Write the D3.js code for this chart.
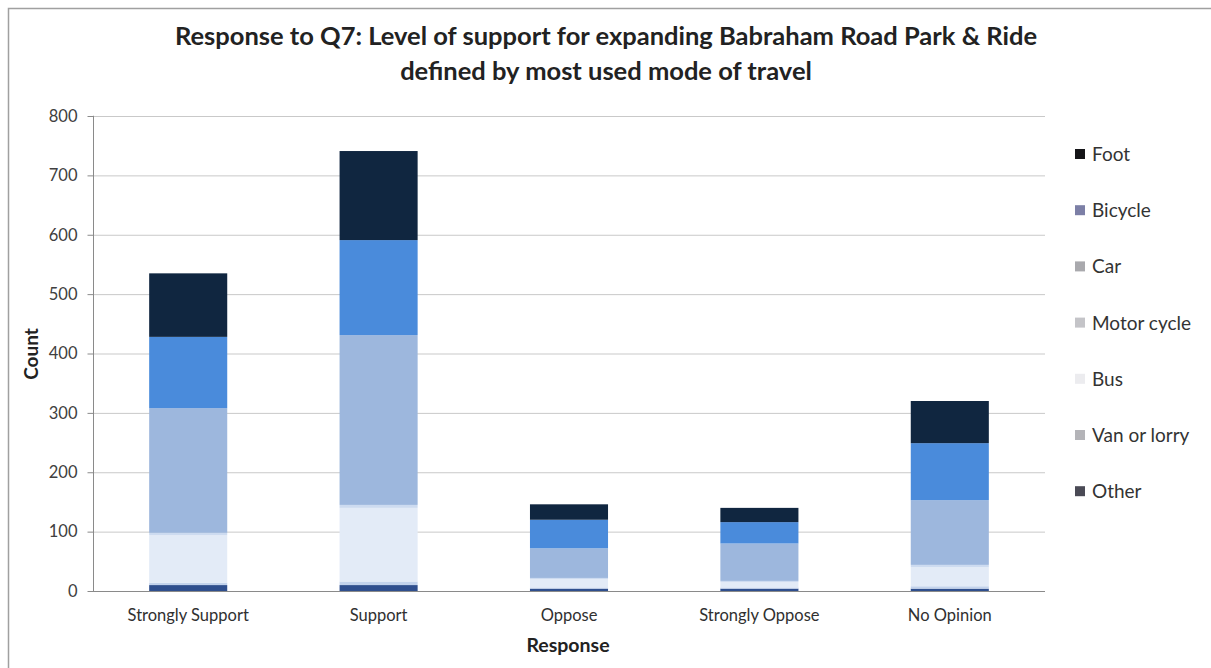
<!DOCTYPE html>
<html><head><meta charset="utf-8">
<script src="https://cdn.jsdelivr.net/npm/d3@7"></script>
<style>body{margin:0;background:#fff;font-family:Lato,"Open Sans",sans-serif;}</style>
</head><body><svg id="c" width="1211" height="668"></svg>
<script>
const categories = ["Strongly Support","Support","Oppose","Strongly Oppose","No Opinion"];
const seriesNames = ["Other","Van or lorry","Bus","Motor cycle","Car","Bicycle","Foot"];
const other      = [10, 10, 4, 4, 4];
const vanOrLorry = [4, 6, 2, 2, 4];
const bus        = [80, 124, 14, 9, 32];
const motorCycle = [4, 5, 2, 2, 4];
const car        = [210, 286, 50, 63, 109];
const bicycle    = [120, 160, 48, 36, 96];
const foot       = [107, 150, 26, 24, 71];
const yTicks = [0,100,200,300,400,500,600,700,800];
const legendOrder = ["Foot","Bicycle","Car","Motor cycle","Bus","Van or lorry","Other"];

const seriesData = {"Other":other,"Van or lorry":vanOrLorry,"Bus":bus,"Motor cycle":motorCycle,"Car":car,"Bicycle":bicycle,"Foot":foot};
const barColors = {"Other":"#2f4f8e","Van or lorry":"#c3d3ec","Bus":"#e3ebf7","Motor cycle":"#cddbf0","Car":"#9db7dd","Bicycle":"#4a8bdb","Foot":"#102640"};
const legendColors = {"Other":"#4a4a55","Van or lorry":"#b4b4b8","Bus":"#ececef","Motor cycle":"#c4c4c8","Car":"#a9a9ad","Bicycle":"#7c7fa6","Foot":"#151518"};

const svg = d3.select("#c");
const pL=93, pR=1045, pT=116, pB=591;

// frame
svg.append("path").attr("d","M8.5,668 V8.5 H1211").attr("fill","none").attr("stroke","#a0a0a0").attr("stroke-width",1.5);

const x = d3.scaleBand().domain(categories).range([pL,pR]).paddingInner(0.59).paddingOuter(0.295);
const y = d3.scaleLinear().domain([0,800]).range([pB,pT]);

// gridlines
svg.append("g").selectAll("line").data(yTicks.filter(d=>d>0)).join("line")
  .attr("x1",pL).attr("x2",pR).attr("y1",d=>y(d)+0.5).attr("y2",d=>y(d)+0.5)
  .attr("stroke","#c9c9c9").attr("stroke-width",1);

// stacked bars
const rows = categories.map((c,i)=>{const o={cat:c}; seriesNames.forEach(s=>o[s]=seriesData[s][i]); return o;});
const stack = d3.stack().keys(seriesNames)(rows);
svg.append("g").selectAll("g").data(stack).join("g").attr("fill",d=>barColors[d.key])
  .selectAll("rect").data(d=>d).join("rect")
  .attr("x",d=>x(d.data.cat)).attr("width",x.bandwidth())
  .attr("y",d=>y(d[1])).attr("height",d=>y(d[0])-y(d[1]));

// y axis
const ya = svg.append("g").attr("transform",`translate(${pL+0.5},0)`)
  .call(d3.axisLeft(y).tickValues(yTicks).tickSize(6).tickPadding(10));
ya.selectAll("path,line").attr("stroke","#8a8a8a");
ya.select(".domain").attr("d",`M-0.5,${pT}H0V${pB}`);
ya.selectAll("text").attr("font-family","Lato,sans-serif").attr("font-size",16.5).attr("fill","#404040");

// x axis
const xa = svg.append("g").attr("transform",`translate(0,${pB+0.5})`)
  .call(d3.axisBottom(x).tickSize(0).tickPadding(18));
xa.select(".domain").attr("stroke","#8a8a8a").attr("d",`M${pL},0H${pR}`);
xa.selectAll("text").attr("font-family","Lato,sans-serif").attr("font-size",16.5).attr("fill","#303030");

// titles
svg.append("text").attr("x",606).attr("y",45).attr("text-anchor","middle")
  .attr("font-size",25.5).attr("font-weight","bold").attr("fill","#222")
  .text("Response to Q7: Level of support for expanding Babraham Road Park & Ride");
svg.append("text").attr("x",606).attr("y",80).attr("text-anchor","middle")
  .attr("font-size",25.5).attr("font-weight","bold").attr("fill","#222")
  .text("defined by most used mode of travel");
svg.append("text").attr("x",568).attr("y",652).attr("text-anchor","middle")
  .attr("font-size",19.5).attr("font-weight","bold").attr("fill","#222").text("Response");
svg.append("text").attr("transform","translate(38,354) rotate(-90)").attr("text-anchor","middle")
  .attr("font-size",19).attr("font-weight","bold").attr("fill","#222").text("Count");

// legend
const lg = svg.append("g").selectAll("g").data(legendOrder).join("g")
  .attr("transform",(d,i)=>`translate(1075,${154+i*56.2})`);
lg.append("rect").attr("x",0).attr("y",-5).attr("width",10).attr("height",10).attr("fill",d=>legendColors[d]);
lg.append("text").attr("x",17).attr("y",7).attr("font-size",19).attr("fill","#333").text(d=>d);
</script></body></html>
